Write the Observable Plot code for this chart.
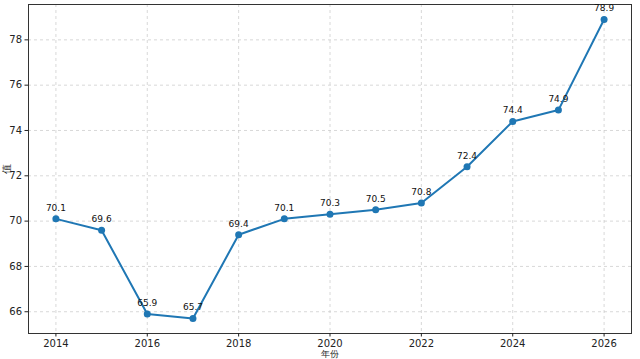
<!DOCTYPE html>
<html>
<head>
<meta charset="utf-8">
<script src="https://cdn.jsdelivr.net/npm/d3@7"></script>
<script src="https://cdn.jsdelivr.net/npm/@observablehq/plot@0.6"></script>
<style>
  html, body { margin: 0; padding: 0; background: #fff; }
  #chart svg { display: block; }
</style>
</head>
<body>
<div id="chart"></div>
<script>
const years = [2014, 2015, 2016, 2017, 2018, 2019, 2020, 2021, 2022, 2023, 2024, 2025, 2026];
const values = [70.1, 69.6, 65.9, 65.7, 69.4, 70.1, 70.3, 70.5, 70.8, 72.4, 74.4, 74.9, 78.9];
const xTicks = [2014, 2016, 2018, 2020, 2022, 2024, 2026];
const yTicks = [66, 68, 70, 72, 74, 76, 78];
const xLabel = "年份";
const yLabel = "值";

const data = years.map((y, i) => ({year: y, value: values[i]}));
const color = "#1f77b4";

const chart = Plot.plot({
  width: 640,
  height: 359,
  marginLeft: 28,
  marginRight: 9,
  marginTop: 4,
  marginBottom: 26,
  style: {fontFamily: "DejaVu Sans, sans-serif", fontSize: "10px", color: "#222", background: "#fff"},
  x: {domain: [2013.4, 2026.6]},
  y: {domain: [65.04, 79.56]},
  marks: [
    Plot.gridX(xTicks, {stroke: "#c8c8c8", strokeOpacity: 0.7, strokeDasharray: "3,3"}),
    Plot.gridY(yTicks, {stroke: "#c8c8c8", strokeOpacity: 0.7, strokeDasharray: "3,3"}),
    Plot.frame({stroke: "#333", strokeWidth: 1}),
    Plot.axisX(xTicks, {tickSize: 3.5, tickPadding: 3, tickFormat: d => String(d), label: null, fontSize: 10}),
    Plot.axisY(yTicks, {tickSize: 3.5, tickPadding: 3, tickFormat: d => String(d), label: yLabel, labelAnchor: "center", labelArrow: "none", labelOffset: 26, fontSize: 10}),
    Plot.text([xLabel], {frameAnchor: "bottom", dy: 21, text: d => d, fontSize: 9, fill: "#222", lineAnchor: "middle"}),
    Plot.line(data, {x: "year", y: "value", stroke: color, strokeWidth: 2}),
    Plot.dot(data, {x: "year", y: "value", fill: color, r: 3.5}),
    Plot.text(data, {x: "year", y: "value", text: d => d.value.toFixed(1), dy: -11, fontSize: 9, fill: "#111"})
  ]
});
document.getElementById("chart").appendChild(chart);
</script>
</body>
</html>
